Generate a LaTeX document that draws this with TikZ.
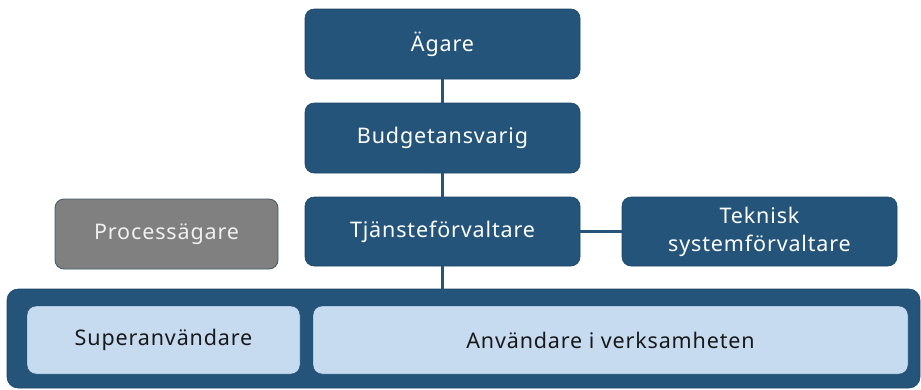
\documentclass[tikz,border=0pt]{standalone}
\usepackage{fontspec}
\setmainfont{Noto Sans}
\newfontfamily\boxfont[LetterSpace=4]{Noto Sans}
\definecolor{navy}{HTML}{245479}
\definecolor{navyedge}{HTML}{1E4868}
\definecolor{lightblue}{HTML}{C6DBEF}
\definecolor{greybox}{HTML}{808080}
\definecolor{greyedge}{HTML}{44576A}
\begin{document}
\begin{tikzpicture}[x=1pt,y=-1pt,
  every node/.style={font=\boxfont\fontsize{21.5}{28}\selectfont, inner sep=0pt, align=center},
  bluebox/.style={rectangle, rounded corners=9pt, fill=navy, draw=navyedge, line width=0.6pt, text=white},
  lightbox/.style={rectangle, rounded corners=9pt, fill=lightblue, draw=navyedge, line width=0.4pt, text=black!90},
  greyboxstyle/.style={rectangle, rounded corners=9pt, fill=greybox, draw=greyedge, line width=0.8pt, text=white!94!black},
  basebox/.style={rectangle, rounded corners=11pt, fill=navy, draw=navyedge, line width=0.6pt},
  link/.style={draw=navy, line width=3pt}]
\useasboundingbox (0,0) rectangle (921,389);
% base container
\node[basebox, minimum width=913pt, minimum height=99pt] (base) at (463.5,338.5) {};
% role boxes
\node[bluebox, minimum width=275pt, minimum height=70pt] (agare) at (442.5,44) {Ägare};
\node[bluebox, minimum width=275pt, minimum height=70pt] (budget) at (442.5,138) {Budgetansvarig};
\node[bluebox, minimum width=275pt, minimum height=69pt] (tjanste) at (442.5,231.5) {Tjänsteförvaltare};
\node[bluebox, minimum width=275pt, minimum height=69pt] (teknisk) at (759.5,231.5) {Teknisk\\systemförvaltare};
\node[greyboxstyle, minimum width=223pt, minimum height=70pt] (process) at (166.5,234) {Processägare};
% connectors
\draw[link] (agare.south) -- (budget.north);
\draw[link] (budget.south) -- (tjanste.north);
\draw[link] (tjanste.south) -- (tjanste.south |- base.north);
\draw[link] (tjanste.east) -- (teknisk.west);
% user boxes
\node[lightbox, minimum width=273pt, minimum height=68pt] (super) at (163.5,340) {Superanvändare};
\node[lightbox, minimum width=595pt, minimum height=68pt] (anv) at (610.5,340) {Användare i verksamheten};
\end{tikzpicture}
\end{document}
